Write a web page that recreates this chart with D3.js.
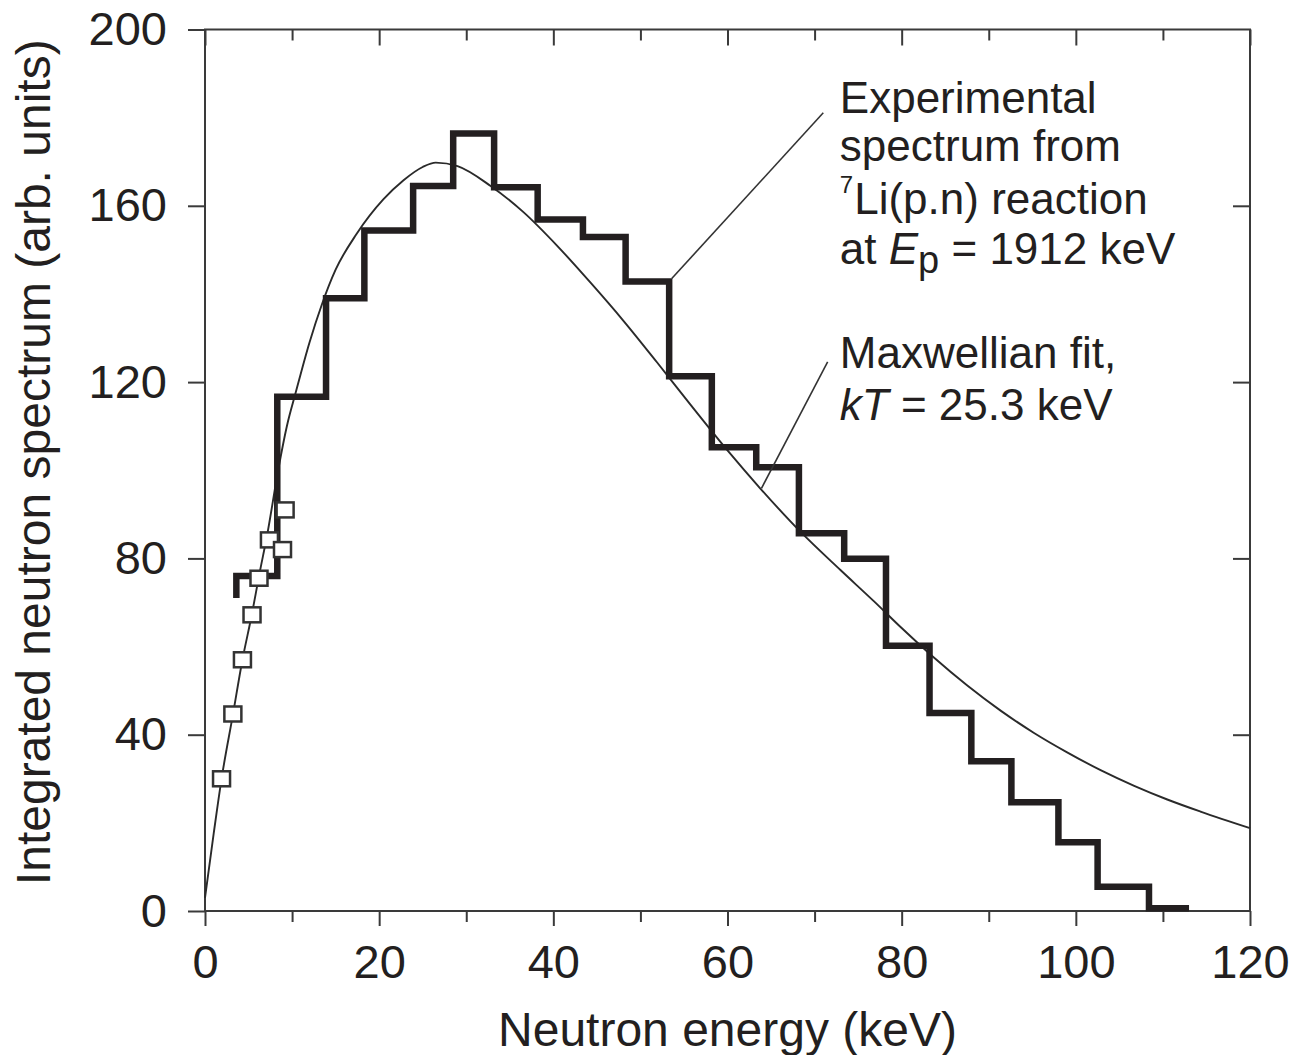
<!DOCTYPE html>
<html>
<head>
<meta charset="utf-8">
<script src="https://cdn.jsdelivr.net/npm/d3@7"></script>
<style>
  html, body { margin: 0; padding: 0; background: #fff; }
  svg { display: block; }
  text { font-family: "Liberation Sans", Arial, Helvetica, sans-serif; fill: #231f20; }
</style>
</head>
<body>
<svg id="chart" width="1292" height="1055"></svg>
<script>
// Axis ticks
const xMajorTicks = [0, 20, 40, 60, 80, 100, 120];
const xMinorTicks = [10, 30, 50, 70, 90, 110];
const yTicks = [0, 40, 80, 120, 160, 200];
const yRightTicks = [40, 80, 120, 160];

// Experimental 7Li(p,n) spectrum: histogram bin edges (keV) and bin heights
const binEdges = [3.6, 8.3, 13.9, 18.3, 23.9, 28.5, 33.2, 38.2, 43.4, 48.3, 53.3, 58.2,
                  63.3, 68.2, 73.4, 78.2, 83.2, 88.0, 92.6, 98.0, 102.5, 108.4, 113.0];
const binValues = [76, 116.7, 139, 154.4, 164.5, 176.4, 164.2, 156.9, 152.9, 142.8, 121.3,
                   105.2, 100.7, 85.7, 79.9, 60.2, 44.9, 34.0, 24.7, 15.6, 5.5, 0.6];
const histStartValue = 71;

// Low-energy measured points (open squares)
const pointEnergy = [1.9, 3.2, 4.3, 5.4, 6.2, 7.4, 8.9, 9.2];
const pointValue = [30.0, 44.7, 57.0, 67.2, 75.5, 84.2, 82.0, 91.0];

// Maxwellian fit curve, kT = 25.3 keV
const fitEnergy = [0, 1, 1.9, 3.2, 4.3, 5.4, 6.2, 7.2, 8.4, 9.4, 10.4, 12, 13.4, 15, 17.4,
                   20.5, 22.8, 25, 26.5, 29, 32.8, 36.6, 40.5, 44.3, 48.1, 51.9, 55.7, 60,
                   63.8, 68.4, 73, 76.8, 80, 83.7, 87.5, 91.4, 95.2, 99, 102.9, 106.7,
                   110.5, 114.4, 120];
const fitValue = [3, 17.6, 30, 44.5, 57, 67.5, 76, 86, 100, 110, 117.5, 129, 137.5, 145.5, 153.6,
                  161.5, 165.8, 168.8, 169.8, 169, 164.5, 158.5, 150.8, 142.5, 133.8, 124.5, 115,
                  104.5, 95.8, 86, 77.3, 70.3, 64.2, 57.5, 51.2, 45.4, 40.4, 36, 31.9, 28.4,
                  25.3, 22.5, 18.8];

const xLabel = "Neutron energy (keV)";
const yLabel = "Integrated neutron spectrum (arb. units)";

const svg = d3.select("#chart");
const ink = "#231f20";
const frameInk = "#3a3a3a";

const x = d3.scaleLinear().domain([0, 120]).range([205, 1250]);
const y = d3.scaleLinear().domain([0, 200]).range([911, 29.5]);

svg.append("rect").attr("width", 1292).attr("height", 1055).attr("fill", "#fff");

// Axes
function styleAxis(g, showText) {
  g.select(".domain").remove();
  g.selectAll(".tick line").attr("stroke", frameInk).attr("stroke-width", 2);
  if (showText) {
    g.selectAll(".tick text").attr("font-size", 47).attr("fill", ink)
      .attr("font-family", '"Liberation Sans", Arial, Helvetica, sans-serif');
  } else {
    g.selectAll(".tick text").remove();
  }
}

svg.append("g").attr("transform", `translate(0,${y(0)})`)
  .call(d3.axisBottom(x).tickValues(xMajorTicks).tickSize(15).tickPadding(19).tickFormat(d3.format("d")))
  .call(g => styleAxis(g, true));
svg.append("g").attr("transform", `translate(0,${y(0)})`)
  .call(d3.axisBottom(x).tickValues(xMinorTicks).tickSize(11))
  .call(g => styleAxis(g, false));

svg.append("g").attr("transform", `translate(0,${y(200)})`)
  .call(d3.axisTop(x).tickValues(xMajorTicks).tickSize(-16))
  .call(g => styleAxis(g, false));
svg.append("g").attr("transform", `translate(0,${y(200)})`)
  .call(d3.axisTop(x).tickValues(xMinorTicks).tickSize(-11))
  .call(g => styleAxis(g, false));

svg.append("g").attr("transform", `translate(${x(0)},0)`)
  .call(d3.axisLeft(y).tickValues(yTicks).tickSize(17).tickPadding(21).tickFormat(d3.format("d")))
  .call(g => styleAxis(g, true));

svg.append("g").attr("transform", `translate(${x(120)},0)`)
  .call(d3.axisRight(y).tickValues(yRightTicks).tickSize(-17))
  .call(g => styleAxis(g, false));

// Plot frame
svg.append("rect")
  .attr("x", x(0)).attr("y", y(200))
  .attr("width", x(120) - x(0)).attr("height", y(0) - y(200))
  .attr("fill", "none").attr("stroke", frameInk).attr("stroke-width", 2);

// Maxwellian fit
const fitPts = fitEnergy.map((e, i) => [e, fitValue[i]]);
svg.append("path")
  .datum(fitPts)
  .attr("fill", "none")
  .attr("stroke", "#2a2a2a")
  .attr("stroke-width", 1.9)
  .attr("d", d3.line().x(d => x(d[0])).y(d => y(d[1])).curve(d3.curveMonotoneX));

// Experimental histogram
const histPts = [[binEdges[0], histStartValue]];
binValues.forEach((v, i) => {
  histPts.push([binEdges[i], v]);
  histPts.push([binEdges[i + 1], v]);
});
svg.append("path")
  .datum(histPts)
  .attr("fill", "none")
  .attr("stroke", ink)
  .attr("stroke-width", 6.5)
  .attr("stroke-linejoin", "miter")
  .attr("d", d3.line().x(d => x(d[0])).y(d => y(d[1])));

// Open-square data points
svg.append("g").selectAll("rect")
  .data(pointEnergy.map((e, i) => [e, pointValue[i]]))
  .join("rect")
  .attr("x", d => x(d[0]) - 8.5)
  .attr("y", d => y(d[1]) - 7.5)
  .attr("width", 17).attr("height", 15)
  .attr("fill", "#fff")
  .attr("stroke", "#333")
  .attr("stroke-width", 2.5);

// Axis titles
svg.append("text")
  .attr("x", (x(0) + x(120)) / 2).attr("y", 1046)
  .attr("text-anchor", "middle").attr("font-size", 48)
  .text(xLabel);

svg.append("text")
  .attr("transform", `translate(50,${(y(0) + y(200)) / 2 - 8}) rotate(-90)`)
  .attr("text-anchor", "middle").attr("font-size", 48)
  .text(yLabel);

// Annotations with leader lines
const leaders = [
  { from: [53.6, 143.5], to: [71.0, 181.1] },
  { from: [63.9, 95.9], to: [71.5, 124.6] }
];
svg.append("g").selectAll("line")
  .data(leaders)
  .join("line")
  .attr("x1", d => x(d.from[0])).attr("y1", d => y(d.from[1]))
  .attr("x2", d => x(d.to[0])).attr("y2", d => y(d.to[1]))
  .attr("stroke", "#333").attr("stroke-width", 1.6);

const annX = x(72.9);
const ann = svg.append("g").attr("font-size", 44);

ann.append("text").attr("x", annX).attr("y", 113).text("Experimental");
ann.append("text").attr("x", annX).attr("y", 161).text("spectrum from");
const l3 = ann.append("text").attr("x", annX).attr("y", 214);
l3.append("tspan").attr("font-size", 24).attr("dy", -21).text("7");
l3.append("tspan").attr("dy", 21).attr("dx", 1).text("Li(p.n) reaction");
const l4 = ann.append("text").attr("x", annX).attr("y", 264);
l4.append("tspan").text("at ");
l4.append("tspan").attr("font-style", "italic").text("E");
l4.append("tspan").attr("font-size", 38).attr("dy", 9).text("p");
l4.append("tspan").attr("dy", -9).text(" = 1912 keV");

ann.append("text").attr("x", annX).attr("y", 368).text("Maxwellian fit,");
const l6 = ann.append("text").attr("x", annX).attr("y", 420);
l6.append("tspan").attr("font-style", "italic").text("kT");
l6.append("tspan").text(" = 25.3 keV");
</script>
</body>
</html>
